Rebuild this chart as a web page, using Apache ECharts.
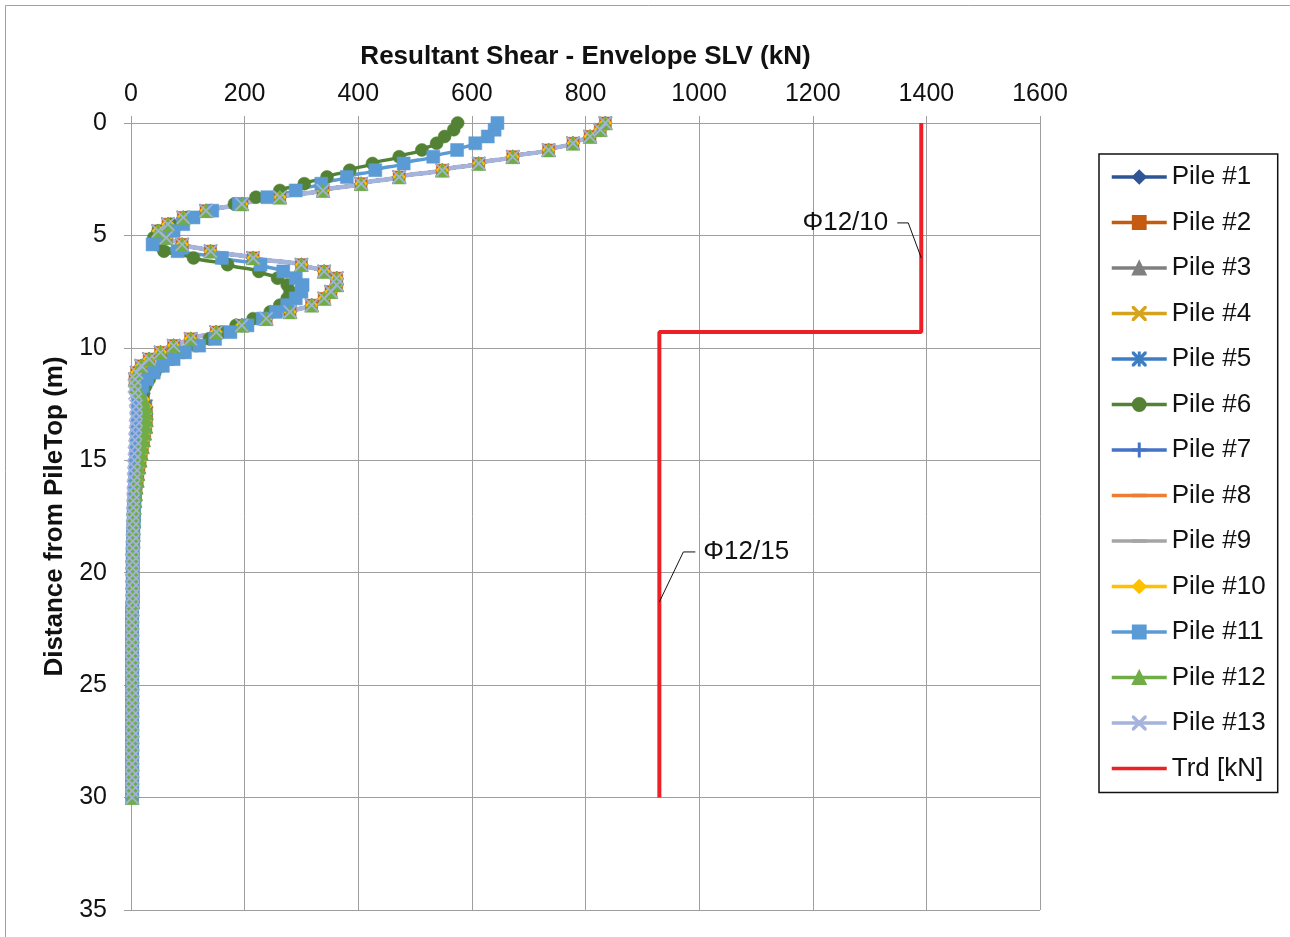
<!DOCTYPE html>
<html>
<head>
<meta charset="utf-8">
<script src="https://cdn.jsdelivr.net/npm/echarts@6/dist/echarts.min.js"></script>
<style>
html,body{margin:0;padding:0;background:#fff;}
#chart{width:1290px;height:937px;}
</style>
</head>
<body>
<div id="chart"></div>
<script>
// ---- data ----
const depth = [0,0.3,0.6,0.9,1.2,1.5,1.8,2.1,2.4,2.7,
  3,3.3,3.6,3.9,4.2,4.5,4.8,5.1,5.4,5.7,
  6,6.3,6.6,6.9,7.2,7.5,7.8,8.1,8.4,8.7,
  9,9.3,9.6,9.9,10.2,10.5,10.8,11.1,11.4,11.7,
  12,12.3,12.6,12.9,13.2,13.5,13.8,14.1,14.4,14.7,
  15,15.3,15.6,15.9,16.2,16.5,16.8,17.1,17.4,17.7,
  18,18.3,18.6,18.9,19.2,19.5,19.8,20.1,20.4,20.7,
  21,21.3,21.6,21.9,22.2,22.5,22.8,23.1,23.4,23.7,
  24,24.3,24.6,24.9,25.2,25.5,25.8,26.1,26.4,26.7,
  27,27.3,27.6,27.9,28.2,28.5,28.8,29.1,29.4,29.7,
  30];
const pileMain = [835,826,808,778,735,672,612,548,472,405,
  338,262,195,132,92,65,48,62,90,140,
  215,300,340,362,362,352,340,318,280,238,
  195,150,105,75,52,32,18,10,7,9,
  15,22,26,27,27,26,24,22,20,18,
  16,14,12,11,9,8,7,6,5,5,
  4,4,4,3,3,3,3,3,3,3,
  3,3,2,2,2,2,2,2,2,2,
  2,2,2,2,2,2,2,2,2,2,
  2,2,2,2,2,2,2,2,2,2,
  2];
const pile6 = [575,568,552,538,512,472,425,385,345,305,
  262,220,182,140,100,70,48,40,45,58,
  110,170,225,258,275,280,275,262,245,215,
  185,160,138,115,92,72,55,42,32,26,
  22,19,17,16,15,14,13,12,11,10,
  9,8,8,7,6,6,5,5,4,4,
  4,3,3,3,3,3,3,3,3,3,
  3,3,2,2,2,2,2,2,2,2,
  2,2,2,2,2,2,2,2,2,2,
  2,2,2,2,2,2,2,2,2,2,
  2];
const pile11 = [645,640,628,606,574,532,480,430,380,335,
  290,240,190,143,110,92,75,55,38,82,
  160,228,268,290,302,300,290,275,255,232,
  205,175,148,120,95,75,56,40,28,20,
  16,14,13,12,12,11,11,10,10,9,
  9,8,8,7,7,6,6,5,5,5,
  4,4,4,3,3,3,3,3,3,3,
  3,3,2,2,2,2,2,2,2,2,
  2,2,2,2,2,2,2,2,2,2,
  2,2,2,2,2,2,2,2,2,2,
  2];
const pile13 = [835,826,808,778,735,672,612,548,472,405,
  338,262,195,132,92,65,48,62,90,140,
  215,300,340,362,362,352,340,318,280,238,
  195,150,105,75,52,32,18,10,7,6,
  7,8,9,9,9,8,8,7,7,6,
  6,5,5,5,4,4,4,4,3,3,
  3,3,3,3,3,3,3,3,3,3,
  3,3,2,2,2,2,2,2,2,2,
  2,2,2,2,2,2,2,2,2,2,
  2,2,2,2,2,2,2,2,2,2,
  2];
const trdDepth = [0, 9.3, 9.3, 30];
const trdValue = [1391, 1391, 930, 930];
const xTicks = [0,200,400,600,800,1000,1200,1400,1600];
const yTicks = [0,5,10,15,20,25,30,35];
const notes = [
  {text:'Φ12/10', value:1391, depth:6.0, side:'left'},
  {text:'Φ12/15', value:930, depth:21.3, side:'right'}
];

// ---- symbols ----
const SYM_X = 'path://M0,0L1.5,0L10,8.5L18.5,0L20,0L20,1.5L11.5,10L20,18.5L20,20L18.5,20L10,11.5L1.5,20L0,20L0,18.5L8.5,10L0,1.5Z';
const SYM_AST = 'path://M0,0L1.5,0L10,8.5L18.5,0L20,0L20,1.5L11.5,10L20,18.5L20,20L18.5,20L10,11.5L1.5,20L0,20L0,18.5L8.5,10L0,1.5ZM9.25,0L10.75,0L10.75,20L9.25,20Z';
const SYM_PLUS = 'path://M9.25,0L10.75,0L10.75,9.25L20,9.25L20,10.75L10.75,10.75L10.75,20L9.25,20L9.25,10.75L0,10.75L0,9.25L9.25,9.25Z';
const SYM_DASH = 'path://M0,0L0,0ZM0,9L20,9L20,11L0,11ZM20,20L20,20Z';

const pileDefs = [
  {name:'Pile #1', data:pileMain, color:'#2F5597', symbol:'diamond', size:13},
  {name:'Pile #2', data:pileMain, color:'#C55A11', symbol:'rect', size:12},
  {name:'Pile #3', data:pileMain, color:'#808080', symbol:'triangle', size:13},
  {name:'Pile #4', data:pileMain, color:'#D6A31E', symbol:SYM_X, size:13},
  {name:'Pile #5', data:pileMain, color:'#3C7DC4', symbol:SYM_AST, size:13},
  {name:'Pile #6', data:pile6, color:'#548235', symbol:'circle', size:13},
  {name:'Pile #7', data:pileMain, color:'#4472C4', symbol:SYM_PLUS, size:13},
  {name:'Pile #8', data:pileMain, color:'#ED7D31', symbol:SYM_DASH, size:10},
  {name:'Pile #9', data:pileMain, color:'#A5A5A5', symbol:SYM_DASH, size:10},
  {name:'Pile #10', data:pileMain, color:'#FFC000', symbol:'diamond', size:13},
  {name:'Pile #11', data:pile11, color:'#5B9BD5', symbol:'rect', size:13},
  {name:'Pile #12', data:pileMain, color:'#70AD47', symbol:'triangle', size:14},
  {name:'Pile #13', data:pile13, color:'#A5B3DD', symbol:SYM_X, size:13, width:4.5}
];

const FONT = '"Liberation Sans", Arial, sans-serif';
const series = pileDefs.map(p => ({
  name: p.name,
  type: 'line',
  data: depth.map((d, i) => [p.data[i], d]),
  smooth: 0.3,
  smoothMonotone: 'y',
  showAllSymbol: true,
  symbol: p.symbol,
  symbolSize: p.size,
  itemStyle: {color: p.color, borderColor: p.color, borderWidth: 0.5},
  lineStyle: {color: p.color, width: p.width || 3.5},
  emphasis: {disabled: true},
  animation: false
}));
series.push({
  name: 'Trd [kN]',
  type: 'line',
  data: trdDepth.map((d, i) => [trdValue[i], d]),
  symbol: SYM_DASH,
  symbolSize: 1,
  itemStyle: {color: '#EE1F25'},
  lineStyle: {color: '#EE1F25', width: 4},
  emphasis: {disabled: true},
  animation: false
});

const chart = echarts.init(document.getElementById('chart'), null, {renderer: 'canvas'});
chart.setOption({
  animation: false,
  backgroundColor: '#fff',
  grid: {left: 131, top: 123, width: 909, height: 787, containLabel: false},
  xAxis: {
    type: 'value', position: 'top',
    min: xTicks[0], max: xTicks[xTicks.length - 1], interval: 200,
    name: 'Resultant Shear - Envelope SLV (kN)',
    nameLocation: 'middle', nameGap: 53,
    nameTextStyle: {fontFamily: FONT, fontSize: 26, fontWeight: 'bold', color: '#111'},
    axisLine: {show: true, lineStyle: {color: '#9E9E9E', width: 1}},
    axisTick: {show: true, length: 7, lineStyle: {color: '#9E9E9E'}},
    axisLabel: {fontFamily: FONT, fontSize: 25, color: '#111', margin: 16, formatter: v => String(v)},
    splitLine: {show: true, lineStyle: {color: '#9E9E9E', width: 1}}
  },
  yAxis: {
    type: 'value', inverse: true,
    min: yTicks[0], max: yTicks[yTicks.length - 1], interval: 5,
    name: 'Distance from PileTop (m)',
    nameLocation: 'middle', nameGap: 55,
    nameTextStyle: {fontFamily: FONT, fontSize: 26, fontWeight: 'bold', color: '#111'},
    axisLine: {show: true, lineStyle: {color: '#9E9E9E', width: 1}},
    axisTick: {show: true, length: 7, lineStyle: {color: '#9E9E9E'}},
    axisLabel: {fontFamily: FONT, fontSize: 25, color: '#111', margin: 24, formatter: v => String(v)},
    splitLine: {show: true, lineStyle: {color: '#9E9E9E', width: 1}}
  },
  legend: {
    orient: 'vertical', left: 1099, top: 154,
    padding: [10, 12, 11, 11],
    borderColor: '#111', borderWidth: 1.5,
    itemWidth: 55, itemHeight: 16, itemGap: 19.5,
    lineStyle: {width: 3.5},
    textStyle: {fontFamily: FONT, fontSize: 26, color: '#111', lineHeight: 26},
    data: series.map(s => s.name)
  },
  series: series
});

// ---- annotations placed through the chart's own scales ----
const graphics = [{
  type: 'rect', shape: {x: 5.5, y: 5.5, width: 1400, height: 1000},
  style: {fill: null, stroke: '#A0A0A0', lineWidth: 1}, silent: true, z: 0
}];
notes.forEach(n => {
  const p = chart.convertToPixel({gridIndex: 0}, [n.value, n.depth]);
  let pts, tx, align;
  if (n.side === 'left') {
    pts = [[p[0], p[1]], [p[0] - 13, p[1] - 35], [p[0] - 24, p[1] - 35]];
    tx = p[0] - 33; align = 'right';
  } else {
    pts = [[p[0], p[1]], [p[0] + 24, p[1] - 50], [p[0] + 36, p[1] - 50]];
    tx = p[0] + 44; align = 'left';
  }
  graphics.push({
    type: 'polyline', shape: {points: pts},
    style: {stroke: '#111', lineWidth: 1, fill: null}, z: 100, silent: true
  });
  graphics.push({
    type: 'text', x: tx, y: pts[2][1],
    style: {text: n.text, fontFamily: FONT, fontSize: 26, fill: '#111', align: align, verticalAlign: 'middle'},
    z: 100, silent: true
  });
});
chart.setOption({graphic: graphics});
</script>
</body>
</html>
